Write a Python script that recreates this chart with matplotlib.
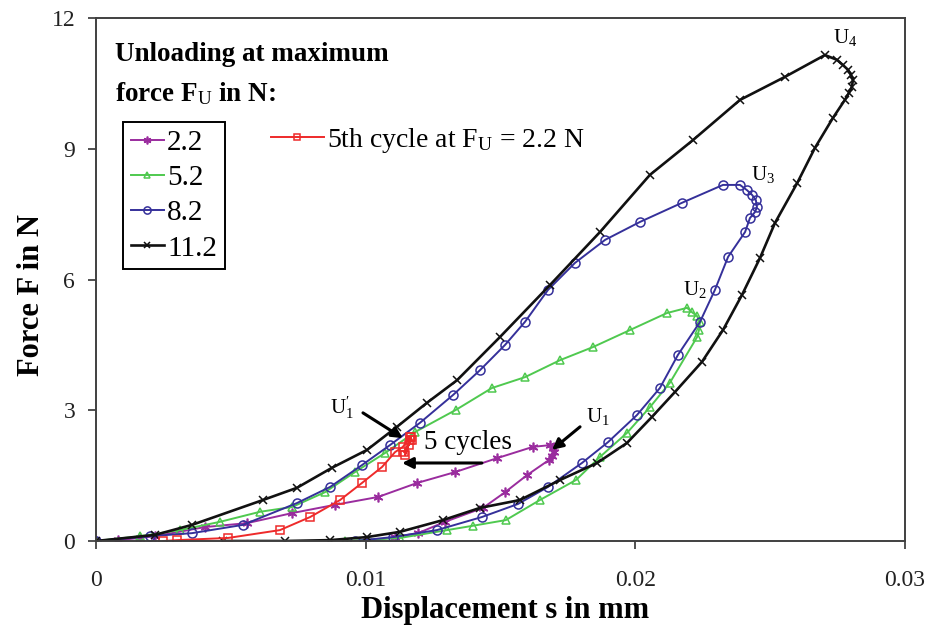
import matplotlib
matplotlib.use("Agg")
import matplotlib.pyplot as plt

plt.rcParams["font.family"] = ["Liberation Serif", "DejaVu Serif"]
plt.rcParams["mathtext.fontset"] = "custom"
plt.rcParams["mathtext.rm"] = "Liberation Serif"
plt.rcParams["mathtext.it"] = "Liberation Serif:italic"
plt.rcParams["mathtext.bf"] = "Liberation Serif:bold"

# ---------------------------------------------------------------------------
# Data (displacement s in mm, force F in N)
# ---------------------------------------------------------------------------
s_22 = [0, 0.00082, 0.00163, 0.00219, 0.00404, 0.0056, 0.00727, 0.00886, 0.01046,
        0.0119, 0.01331, 0.01487, 0.0162, 0.01684, 0.01695, 0.01698, 0.01691, 0.0168,
        0.01598, 0.01517, 0.01435, 0.01294, 0.01194, 0.01109, 0.01005]
f_22 = [0, 0.02, 0.07, 0.11, 0.32, 0.41, 0.64, 0.83, 1.01,
        1.33, 1.58, 1.90, 2.16, 2.20, 2.13, 2.04, 1.95, 1.86,
        1.51, 1.12, 0.76, 0.44, 0.18, 0.09, 0]

s_52 = [0, 0.00163, 0.00311, 0.0046, 0.00608, 0.00727, 0.00849, 0.0096, 0.01072,
        0.01183, 0.01335, 0.01468, 0.01591, 0.01721, 0.01843, 0.0198, 0.02117, 0.02192,
        0.0221, 0.02229, 0.0224, 0.02236, 0.02229, 0.02128, 0.02054, 0.01969, 0.01869,
        0.0178, 0.01646, 0.0152, 0.01398, 0.01302, 0.01127, 0.00923]
f_52 = [0, 0.11, 0.25, 0.44, 0.67, 0.78, 1.12, 1.58, 2.02,
        2.50, 3.01, 3.51, 3.76, 4.15, 4.45, 4.84, 5.23, 5.35,
        5.25, 5.16, 5.03, 4.84, 4.68, 3.63, 3.07, 2.48, 1.93,
        1.40, 0.94, 0.48, 0.35, 0.25, 0.07, 0]

s_82 = [0, 0.002, 0.00356, 0.00545, 0.00745, 0.00868, 0.00986, 0.0109, 0.01201,
        0.01324, 0.01424, 0.01517, 0.01591, 0.01676, 0.01776, 0.01888, 0.02017, 0.02173,
        0.02325, 0.02388, 0.02414, 0.02433, 0.02447, 0.02451, 0.02444, 0.02425,
        0.02407, 0.02344, 0.02295, 0.0224, 0.02158, 0.02091, 0.02006, 0.01899, 0.01802,
        0.01676, 0.01565, 0.01431, 0.01264, 0.01101, 0.0096]
f_82 = [0, 0.11, 0.18, 0.37, 0.87, 1.24, 1.74, 2.20, 2.71,
        3.35, 3.92, 4.50, 5.03, 5.76, 6.38, 6.91, 7.32, 7.76,
        8.17, 8.17, 8.05, 7.94, 7.82, 7.66, 7.55, 7.41,
        7.09, 6.52, 5.76, 5.03, 4.27, 3.51, 2.89, 2.27, 1.79,
        1.24, 0.85, 0.55, 0.25, 0.09, 0]

s_112 = [0, 0.00219, 0.00356, 0.00619, 0.00745, 0.00875, 0.01005, 0.01116, 0.01227,
         0.01339, 0.01498, 0.01683, 0.01869, 0.02054, 0.02214, 0.02388, 0.02555, 0.02703,
         0.02748, 0.0277, 0.02789, 0.028, 0.02807, 0.02803, 0.02792, 0.02777,
         0.02733, 0.02666, 0.026, 0.02518, 0.02462, 0.02395, 0.02325, 0.02247, 0.02147,
         0.02062, 0.01969, 0.01858, 0.01721, 0.01572, 0.01424, 0.01287, 0.01127, 0.01005,
         0.00868, 0.00701, 0.00472]
f_112 = [0, 0.14, 0.37, 0.94, 1.22, 1.68, 2.09, 2.62, 3.17,
         3.69, 4.68, 5.87, 7.09, 8.40, 9.20, 10.12, 10.65, 11.15,
         11.04, 10.92, 10.81, 10.69, 10.58, 10.42, 10.28, 10.12,
         9.71, 9.02, 8.21, 7.30, 6.49, 5.64, 4.84, 4.11, 3.42,
         2.85, 2.25, 1.79, 1.40, 0.94, 0.76, 0.48, 0.21, 0.09,
         0.02, 0, 0]

s_5th = [0.0025, 0.003, 0.0049, 0.00682, 0.00794, 0.00905, 0.00986, 0.01061, 0.01109,
         0.01138, 0.01164, 0.01172, 0.01142, 0.0116, 0.01168, 0.01146, 0.01164]
f_5th = [0, 0.02, 0.07, 0.25, 0.55, 0.94, 1.33, 1.70, 2.04,
         2.16, 2.39, 2.32, 2.04, 2.20, 2.39, 1.97, 2.32]

x_ticks = [0, 0.01, 0.02, 0.03]
x_tick_labels = ["0", "0.01", "0.02", "0.03"]
y_ticks = [0, 3, 6, 9, 12]

C_PURPLE, C_GREEN, C_BLUE, C_BLACK, C_RED = "#9A2C9E", "#4FC94F", "#35309A", "#111111", "#EE2A2A"

fig = plt.figure(figsize=(9.38, 6.34), dpi=100)
ax = fig.add_axes([96 / 938, 1 - 541 / 634, 809 / 938, 523 / 634])

l22, = ax.plot(s_22, f_22, color=C_PURPLE, lw=1.4, marker=(6, 2, 0), ms=7, mew=1.2)
l52, = ax.plot(s_52, f_52, color=C_GREEN, lw=1.4, marker="^", ms=6, mfc="none", mew=1.1)
l82, = ax.plot(s_82, f_82, color=C_BLUE, lw=1.4, marker="o", ms=6.5, mfc="none", mew=1.1)
l112, = ax.plot(s_112, f_112, color=C_BLACK, lw=1.9, marker="x", ms=6, mew=1.1)
l5th, = ax.plot(s_5th, f_5th, color=C_RED, lw=1.4, marker="s", ms=6, mfc="none", mew=1.1)

ax.set_xlim(0, 0.03)
ax.set_ylim(0, 12)
ax.set_xticks(x_ticks)
ax.set_xticklabels(x_tick_labels)
ax.set_yticks(y_ticks)
ax.tick_params(direction="out", length=6, width=1.2, colors="#333333", labelsize=17,
               labelcolor="#222222")
ax.tick_params(axis="x", pad=15)
ax.tick_params(axis="y", pad=9)
for sp in ax.spines.values():
    sp.set_color("#404040")
    sp.set_linewidth(1.4)

ax.set_xlabel("Displacement s in mm", fontsize=22, fontweight="bold")
ax.set_ylabel("Force F in N", fontsize=22, fontweight="bold")
ax.xaxis.set_label_coords(0.506, -0.106)
ax.yaxis.set_label_coords(-0.062, 0.47)

# legend heading + boxed legend
ax.text(0.0235, 0.93, "Unloading at maximum", transform=ax.transAxes,
        fontsize=19.5, fontweight="bold", va="center")
ax.text(0.0235, 0.856, r"force $\mathbf{F}_{\mathrm{U}}$ in N:", transform=ax.transAxes,
        fontsize=19.5, fontweight="bold", va="center")

leg1 = ax.legend([l22, l52, l82, l112], ["2.2", "5.2", "8.2", "11.2"],
                 loc="upper left", bbox_to_anchor=(123 / 938, 1 - 122 / 634),
                 bbox_transform=fig.transFigure, borderaxespad=0, fontsize=21,
                 frameon=True, fancybox=False, edgecolor="black", framealpha=1,
                 borderpad=0.26, labelspacing=0.3, handlelength=1.15,
                 handletextpad=0.1, markerscale=0.8)
leg1.get_frame().set_linewidth(1.4)
ax.add_artist(leg1)
ax.legend([l5th], [r"5th cycle at F$_{\mathrm{U}}$ = 2.2 N"],
          loc="upper left", bbox_to_anchor=(271 / 938, 1 - 126 / 634),
          bbox_transform=fig.transFigure, borderaxespad=0, borderpad=0,
          fontsize=20, frameon=False, handlelength=1.9, handletextpad=0.1,
          markerscale=0.8)

# annotations
arrow = dict(arrowstyle="-|>", color="black", lw=2.2, mutation_scale=16,
             shrinkA=0, shrinkB=0)
ax.annotate("", xy=(0.01138, 2.36), xytext=(0.0099, 2.94), arrowprops=arrow)
ax.annotate("", xy=(0.01135, 1.79), xytext=(0.01431, 1.79), arrowprops=arrow)
ax.annotate("", xy=(0.01691, 2.09), xytext=(0.01795, 2.62), arrowprops=arrow)
ax.text(0.00912, 3.05, r"U$_1^{\prime}$", fontsize=15, ha="center", va="center")
ax.text(0.0138, 2.25, "5 cycles", fontsize=19.5, ha="center", va="center")
ax.text(0.01862, 2.85, r"U$_1$", fontsize=15, ha="center", va="center")
ax.text(0.02221, 5.76, r"U$_2$", fontsize=15, ha="center", va="center")
ax.text(0.02473, 8.40, r"U$_3$", fontsize=15, ha="center", va="center")
ax.text(0.02777, 11.56, r"U$_4$", fontsize=15, ha="center", va="center")

fig.savefig("out.png", dpi=100)
